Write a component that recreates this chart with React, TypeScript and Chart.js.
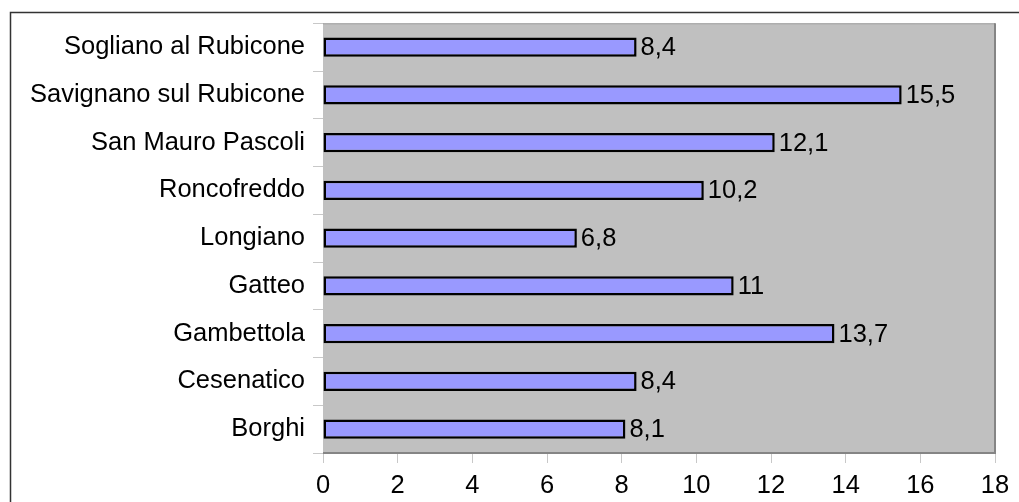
import React, { useEffect, useRef } from "react";
import { Chart, registerables } from "chart.js";

Chart.register(...registerables);

const comuni = [
  "Sogliano al Rubicone",
  "Savignano sul Rubicone",
  "San Mauro Pascoli",
  "Roncofreddo",
  "Longiano",
  "Gatteo",
  "Gambettola",
  "Cesenatico",
  "Borghi",
];
const valori = [8.4, 15.5, 12.1, 10.2, 6.8, 11, 13.7, 8.4, 8.1];
const xMin = 0;
const xMax = 18;
const xStep = 2;

const FONT = "'Liberation Sans', Arial, sans-serif";
const FONT_SIZE = 25.5;
const fmt = (v: number) => String(v).replace(".", ",");

// Grey plot background with its frame, plus the outer chart border
const plotFrame = {
  id: "plotFrame",
  beforeDatasetsDraw(chart: any) {
    const { ctx, chartArea: a } = chart;
    ctx.save();
    ctx.fillStyle = "#c0c0c0";
    ctx.fillRect(a.left, a.top, a.right - a.left, a.bottom - a.top);
    ctx.lineWidth = 1;
    ctx.strokeStyle = "#a0a0a0";
    ctx.beginPath();
    ctx.moveTo(a.left, a.top + 0.5);
    ctx.lineTo(a.right, a.top + 0.5);
    ctx.stroke();
    ctx.lineWidth = 2;
    ctx.strokeStyle = "#858585";
    ctx.beginPath();
    ctx.moveTo(a.right, a.top);
    ctx.lineTo(a.right, a.bottom);
    ctx.lineTo(a.left, a.bottom);
    ctx.stroke();
    ctx.restore();
  },
  afterDraw(chart: any) {
    const { ctx, width, height } = chart;
    ctx.save();
    ctx.strokeStyle = "#333333";
    ctx.lineWidth = 1.5;
    ctx.beginPath();
    ctx.moveTo(10.5, height);
    ctx.lineTo(10.5, 12.5);
    ctx.lineTo(width, 12.5);
    ctx.stroke();
    ctx.restore();
  },
};

// Value labels to the right of each bar
const valueLabels = {
  id: "valueLabels",
  afterDatasetsDraw(chart: any) {
    const { ctx } = chart;
    const meta = chart.getDatasetMeta(0);
    ctx.save();
    ctx.font = `${FONT_SIZE}px ${FONT}`;
    ctx.fillStyle = "#000";
    ctx.textAlign = "left";
    ctx.textBaseline = "middle";
    meta.data.forEach((bar: any, i: number) => {
      ctx.fillText(fmt(valori[i]), bar.x + 4, bar.y + 1);
    });
    ctx.restore();
  },
};

export default function App() {
  const ref = useRef<HTMLCanvasElement>(null);

  useEffect(() => {
    if (!ref.current) return;
    const chart = new Chart(ref.current, {
      type: "bar",
      data: {
        labels: comuni,
        datasets: [
          {
            data: valori,
            backgroundColor: "#9999ff",
            borderColor: "#000000",
            borderWidth: 2.5,
            borderSkipped: false,
            categoryPercentage: 1,
            barPercentage: 0.4,
          },
        ],
      },
      options: {
        indexAxis: "y",
        responsive: false,
        animation: false,
        layout: { padding: { top: 22, right: 24, left: 0, bottom: 0 } },
        plugins: {
          legend: { display: false },
          tooltip: { enabled: false },
        },
        scales: {
          x: {
            min: xMin,
            max: xMax,
            ticks: {
              stepSize: xStep,
              color: "#000",
              font: { family: FONT, size: FONT_SIZE },
              padding: 8,
              callback: (v: any) => String(v),
            },
            grid: {
              drawOnChartArea: false,
              drawTicks: true,
              tickLength: 10,
              color: "#c8c8c8",
            },
            border: { display: false },
            afterFit: (s: any) => {
              s.height = 49;
            },
          },
          y: {
            ticks: {
              color: "#000",
              font: { family: FONT, size: FONT_SIZE },
              padding: 8,
            },
            grid: {
              drawOnChartArea: false,
              drawTicks: true,
              tickLength: 10,
              color: "#c8c8c8",
              offset: true,
            },
            border: { display: true, color: "#d0d0d0", width: 1 },
            afterFit: (s: any) => {
              s.width = 323;
            },
          },
        },
      },
      plugins: [plotFrame, valueLabels],
    });
    return () => chart.destroy();
  }, []);

  return (
    <div style={{ position: "fixed", left: 0, top: 0, width: 1019, height: 502, background: "#fff" }}>
      <canvas ref={ref} width={1019} height={502} />
    </div>
  );
}
